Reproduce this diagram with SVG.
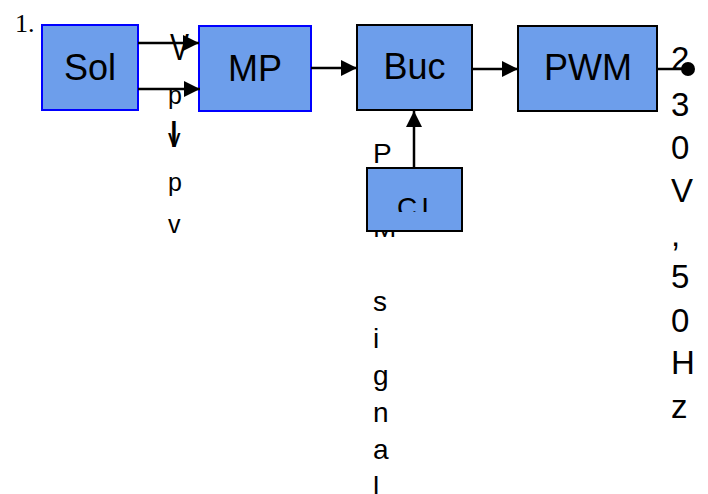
<svg xmlns="http://www.w3.org/2000/svg" width="708" height="494" viewBox="0 0 708 494">
<style>
.box{fill:#6d9eeb;stroke-width:2}
.bl{stroke:#0000ff}
.bk{stroke:#000000}
.lbl{font-family:"Liberation Sans",Arial,sans-serif;font-size:36px;fill:#000;text-anchor:middle}
.t{font-family:"Liberation Sans",Arial,sans-serif;fill:#000}
.s25{font-size:25px}
.s37{font-size:37px}
.s28{font-size:28px}
.s33{font-size:33px}
.con{stroke:#000;stroke-width:2.5;fill:none}
</style>
<defs>
<marker id="ah" markerUnits="userSpaceOnUse" markerWidth="18" markerHeight="18" refX="16" refY="8" orient="auto">
<path d="M0,0 L16,8 L0,16 z" fill="#000"/>
</marker>
<marker id="dot" markerUnits="userSpaceOnUse" markerWidth="16" markerHeight="16" refX="8" refY="8" orient="auto">
<circle cx="8" cy="8" r="7" fill="#000"/>
</marker>
<clipPath id="ciclip"><rect x="367" y="168" width="96" height="44"/></clipPath>
</defs>
<rect width="708" height="494" fill="#ffffff"/>
<text x="15" y="32" font-family="'Liberation Serif',serif" font-size="26" fill="#000">1.</text>
<g id="labels">
<text class="t s37" x="170" y="60" textLength="19" lengthAdjust="spacingAndGlyphs">V</text>
<text class="t s25" x="168" y="104">p</text>
<text class="t s25" x="168" y="147">v</text>
<text class="t s37" x="174" y="147" text-anchor="middle">I</text>
<text class="t s25" x="168" y="191">p</text>
<text class="t s25" x="168" y="233">v</text>
<g class="t s28">
<text x="373" y="163">P</text>
<text x="373" y="200">W</text>
<text x="373" y="237">M</text>
<text x="373" y="311">s</text>
<text x="373" y="348">i</text>
<text x="373" y="385">g</text>
<text x="373" y="422">n</text>
<text x="373" y="459">a</text>
<text x="373" y="496">l</text>
</g>
<g class="t s33">
<text x="671" y="70">2</text>
<text x="671" y="116">3</text>
<text x="671" y="159">0</text>
<text x="671" y="202">V</text>
<text x="671" y="246">,</text>
<text x="671" y="288">5</text>
<text x="671" y="332">0</text>
<text x="671" y="374">H</text>
<text x="671" y="418">z</text>
</g>
</g>
<g id="nodes">
<g id="sol"><rect class="box bl" x="42" y="25" width="96" height="85"/><text class="lbl" x="90" y="80">Sol</text></g>
<g id="mp"><rect class="box bl" x="199" y="26" width="112" height="85"/><text class="lbl" x="255" y="81">MP</text></g>
<g id="buc"><rect class="box bk" x="357" y="25" width="115" height="85"/><text class="lbl" x="414.5" y="79">Buc</text></g>
<g id="pwm"><rect class="box bk" x="518" y="26" width="139" height="85"/><text class="lbl" x="588" y="80">PWM</text></g>
<g id="ci"><rect class="box bk" x="367" y="168" width="95" height="63"/><text class="t s28" x="397" y="217" letter-spacing="4" clip-path="url(#ciclip)">CI</text></g>
</g>
<g id="connectors">
<line class="con" x1="138" y1="43" x2="199" y2="43" marker-end="url(#ah)"/>
<line class="con" x1="138" y1="89" x2="200" y2="89" marker-end="url(#ah)"/>
<line class="con" x1="311" y1="68" x2="357" y2="68" marker-end="url(#ah)"/>
<line class="con" x1="472" y1="69" x2="518" y2="69" marker-end="url(#ah)"/>
<line class="con" x1="414" y1="168" x2="414" y2="111" marker-end="url(#ah)"/>
<line class="con" x1="657" y1="69" x2="688" y2="69" marker-end="url(#dot)"/>
</g>
</svg>
